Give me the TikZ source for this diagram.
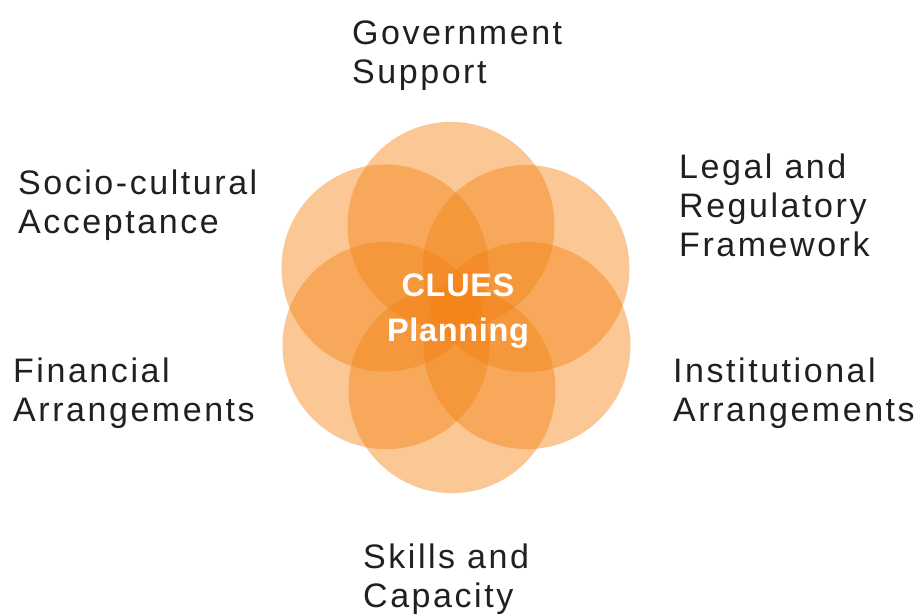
\documentclass[tikz,border=0pt]{standalone}
\usepackage{fontspec}
\setmainfont{Liberation Sans}
\newfontfamily\labelfont[LetterSpace=7.5]{Liberation Sans}
\newfontfamily\corefont[LetterSpace=2]{Liberation Sans Bold}
\definecolor{petalorange}{RGB}{243, 130, 20}
\definecolor{labelgray}{RGB}{35, 31, 32}
\usetikzlibrary{positioning}

\tikzset{
  petal/.style={fill=petalorange, fill opacity=0.45, draw=none},
  factor/.style={anchor=base west, align=left, inner sep=0pt, text=labelgray,
    font=\labelfont\fontsize{34}{39}\selectfont},
  core/.style={align=center, inner sep=0pt, text=white,
    font=\corefont\fontsize{32.5}{45}\selectfont}
}

\begin{document}
\begin{tikzpicture}[x=1pt, y=1pt]
  \useasboundingbox (0, 0) rectangle (920, 615);

  % six overlapping circles
  \foreach \cx/\cy in {451/389.6, 385/347, 526/346.5, 386/269.4, 527/269.4, 452/225.4}
    \fill[petal] (\cx, \cy) circle (103.5);

  % centre label
  \node[core] (core) at (458, 304) {CLUES\\Planning};

  % surrounding factors (anchored at the last line)
  \node[factor] (gov) at (352, 531) {Government\\Support};
  \node[factor] (legal) at (679, 358) {Legal and\\Regulatory\\Framework};
  \node[factor] (socio) at (18, 381) {Socio-cultural\\Acceptance};
  \node[factor] (fin) at (13, 193) {Financial\\Arrangements};
  \node[factor] (inst) at (673, 193) {Institutional\\Arrangements};
  \node[factor] (skills) at (363, 7) {Skills and\\Capacity};
\end{tikzpicture}
\end{document}
